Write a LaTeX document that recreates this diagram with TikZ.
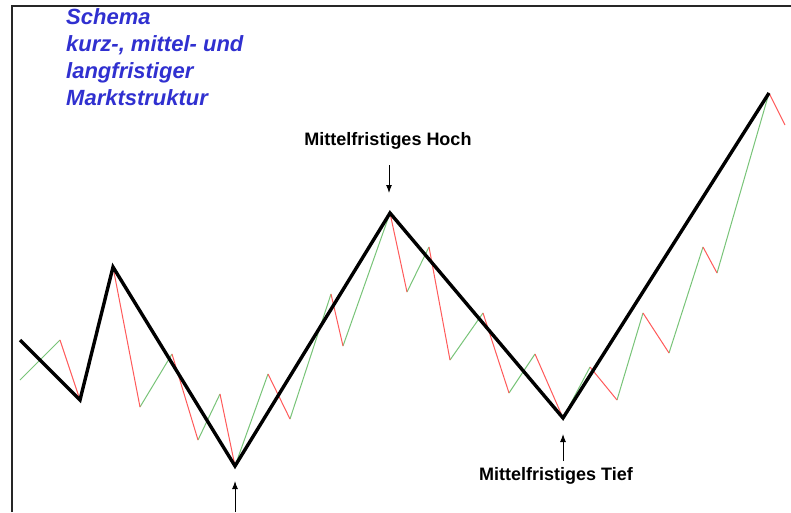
\documentclass[tikz,border=0pt]{standalone}
\usepackage{fontspec}
\setmainfont{Liberation Sans}
\definecolor{titelblau}{HTML}{3030D0}
\definecolor{aufwaerts}{HTML}{78C478}
\definecolor{abwaerts}{HTML}{FF5A5A}
\usetikzlibrary{arrows.meta, positioning, calc}
\tikzset{
  trend/.style={line width=3.4pt, line join=miter, black},
  upleg/.style={aufwaerts, line width=1pt},
  downleg/.style={abwaerts, line width=1pt},
  marke/.style={font=\fontsize{18}{20}\selectfont\bfseries, inner sep=0pt},
  pfeil/.style={-{Latex[length=8pt,width=6pt]}, line width=1pt},
}

\begin{document}
\begin{tikzpicture}[x=1pt,y=-1pt]
    \useasboundingbox (0,0) rectangle (791,512);
    \fill[white] (0,0) rectangle (791,512);
    \draw[line width=2pt, black!85] (12,512) -- (12,6) -- (791,6);
    \node[anchor=north west, align=left, inner sep=0pt, text=titelblau,
      font=\fontsize{22}{27}\selectfont\bfseries\itshape] (titel) at (66,8)
      {Schema\\kurz-, mittel- und\\langfristiger\\Marktstruktur};
    \foreach \px/\py [count=\i from 0] in {20/380, 60/340, 80/400, 113/267,
      140/407, 172/354, 198/440, 220/394, 235/466, 268/374, 290/419,
      331/294, 343/346, 390/213, 407/292, 429/247, 450/360, 483/313,
      509/393, 535/354, 563/418, 590/367, 617/400, 643/313, 669/353,
      703/247, 717/273, 769/93, 785/125}{%
      \coordinate (s\i) at (\px,\py);
    }
    \foreach \i [evaluate=\i as \j using int(\i+1)] in {0,2,...,26}
      \draw[upleg] (s\i) -- (s\j);
    \foreach \i [evaluate=\i as \j using int(\i+1)] in {1,3,...,27}
      \draw[downleg] (s\i) -- (s\j);
    \draw[trend] (20,340) -- (s2) -- (s3) -- (s8) -- (s13) -- (s20) -- (s27);
    \node[marke] (hoch) at (388,141) {Mittelfristiges Hoch};
    \node[marke] (tief) at (556,476) {Mittelfristiges Tief};
    \coordinate (hochfuss) at (389,165);
    \coordinate (hochspitze) at (389,193);
    \coordinate (tieffuss) at (563,461);
    \coordinate (tiefspitze) at (563,434);
    \coordinate (tief2fuss) at (235,512);
    \coordinate (tief2spitze) at (235,481);
    \draw[pfeil] (hochfuss) -- (hochspitze);
    \draw[pfeil] (tieffuss) -- (tiefspitze);
    \draw[pfeil] (tief2fuss) -- (tief2spitze);
  \end{tikzpicture}
\end{document}
